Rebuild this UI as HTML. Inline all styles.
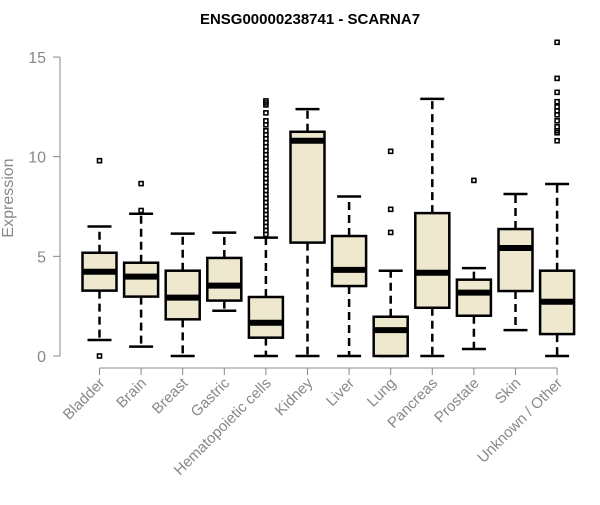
<!DOCTYPE html>
<html><head><meta charset="utf-8"><style>
body{margin:0;background:#fff;}
svg text{font-family:"Liberation Sans",Arial,sans-serif;}
</style></head><body>
<svg id="chart" width="600" height="500" xmlns="http://www.w3.org/2000/svg">
<text x="310" y="24" text-anchor="middle" font-size="15" font-weight="bold">ENSG00000238741 - SCARNA7</text>
<text transform="translate(13,198) rotate(-90)" text-anchor="middle" font-size="16" fill="#888">Expression</text>
<g id="axes"></g><g id="boxes"></g>
</svg>
<script>
const categories=["Bladder","Brain","Breast","Gastric","Hematopoietic cells","Kidney","Liver","Lung","Pancreas","Prostate","Skin","Unknown / Other"];
const whiskLow=[0.8,0.47,0,2.27,0,0,0,0,0,0.35,1.3,0];
const q1=[3.28,2.98,1.84,2.78,0.92,5.69,3.51,0,2.42,2.02,3.26,1.1];
const median=[4.23,3.98,2.93,3.53,1.67,10.8,4.32,1.3,4.18,3.18,5.42,2.72];
const q3=[5.18,4.68,4.28,4.92,2.96,11.25,6.02,1.97,7.17,3.83,6.37,4.28];
const whiskHigh=[6.5,7.14,6.14,6.19,5.94,12.39,8.0,4.28,12.9,4.41,8.13,8.63];
const outliers=[[9.8,0],[8.65,7.3],[],[],[12.8,12.7,12.6,12.2,11.8,11.6,11.3,11.1,10.9,10.7,10.5,10.3,10.1,9.9,9.7,9.5,9.3,9.1,8.9,8.7,8.5,8.3,8.1,7.9,7.7,7.5,7.3,7.1,6.9,6.7,6.5,6.3,6.1],[],[],[10.27,7.36,6.2],[],[8.81],[],[15.74,13.93,13.23,12.76,12.5,12.3,12.1,11.8,11.5,11.3,11.2,10.8]];
const yTicks=[0,5,10,15];
const NS="http://www.w3.org/2000/svg";
const y=v=>356-v*19.93;
const x=i=>99.5+i*41.6;
function mk(p,t,a){const e=document.createElementNS(NS,t);for(const k in a)e.setAttribute(k,a[k]);p.appendChild(e);return e;}
const ax=document.getElementById('axes'),bx=document.getElementById('boxes');
let l=mk(ax,'line',{x1:60,x2:60,y1:y(15),y2:y(0),stroke:'#888'});


yTicks.forEach(v=>{
 let t=mk(ax,'line',{x1:53,x2:60,y1:y(v),y2:y(v),stroke:'#888'});
 
 
 let tx=mk(ax,'text',{x:46,y:y(v)+6,'text-anchor':'end','font-size':16,fill:'#888'});tx.textContent=v;
 
 
});
l=mk(ax,'line',{x1:x(0),x2:x(11),y1:368,y2:368,stroke:'#888'});


categories.forEach((c,i)=>{
 let t=mk(ax,'line',{x1:x(i),x2:x(i),y1:368,y2:375,stroke:'#888'});
 
 
 let tx=mk(ax,'text',{transform:`translate(${x(i)+6},${384}) rotate(-45)`,'text-anchor':'end','font-size':15,fill:'#888'});tx.textContent=c;
 
 
 const g=mk(bx,'g',{});
 
 
 const cx=x(i),w=17,cw=12;
 mk(g,'line',{x1:cx,x2:cx,y1:y(q3[i]),y2:y(whiskHigh[i]),stroke:'#000','stroke-width':2.5,'stroke-dasharray':'8,5'});
 mk(g,'line',{x1:cx,x2:cx,y1:y(q1[i]),y2:y(whiskLow[i]),stroke:'#000','stroke-width':2.5,'stroke-dasharray':'8,5'});
 mk(g,'line',{x1:cx-cw,x2:cx+cw,y1:y(whiskHigh[i]),y2:y(whiskHigh[i]),stroke:'#000','stroke-width':2.5});
 mk(g,'line',{x1:cx-cw,x2:cx+cw,y1:y(whiskLow[i]),y2:y(whiskLow[i]),stroke:'#000','stroke-width':2.5});
 mk(g,'rect',{x:cx-w,y:y(q3[i]),width:2*w,height:y(q1[i])-y(q3[i]),fill:'#ede8ce',stroke:'#000','stroke-width':2.5});
 mk(g,'line',{x1:cx-w,x2:cx+w,y1:y(median[i]),y2:y(median[i]),stroke:'#000','stroke-width':6});
 outliers[i].forEach(v=>{
  let o=mk(g,'rect',{x:cx-2,y:y(v)-2,width:4,height:4,fill:'none',stroke:'#000','stroke-width':1.6});
  
  
 });
});
</script>
</body></html>
